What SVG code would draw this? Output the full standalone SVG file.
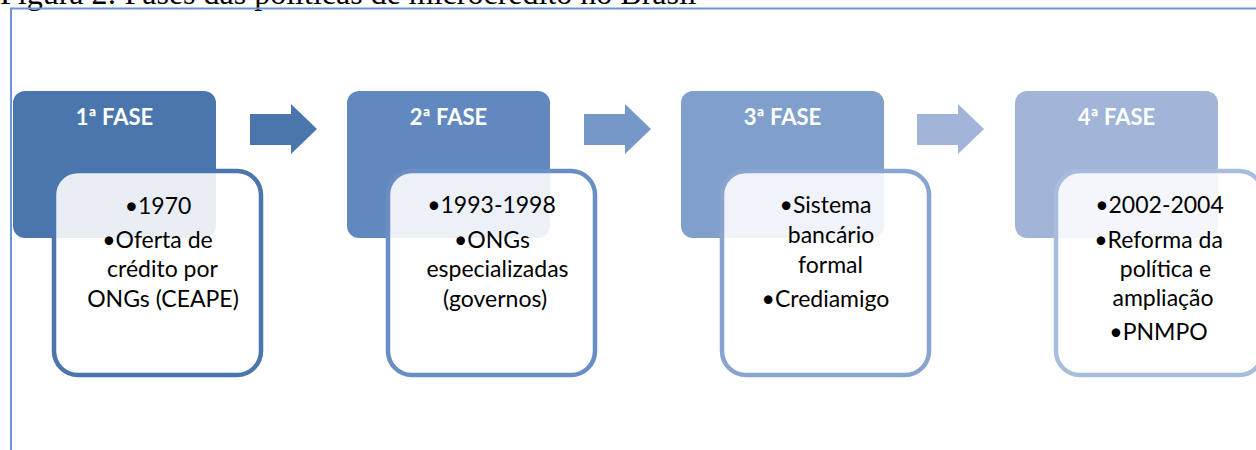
<svg xmlns="http://www.w3.org/2000/svg" width="1256" height="450" viewBox="0 0 1256 450">
<style>
  .title { font-family: "Liberation Serif", "Times New Roman", serif; font-size: 32px; fill: #000; }
  .hdr { font-family: Lato, "Open Sans", sans-serif; font-weight: bold; font-size: 22px; fill: #fff; text-anchor: middle; }
  .body { font-family: Lato, "Open Sans", sans-serif; font-size: 23px; fill: #000; text-anchor: middle; }
  .inner { fill: #fff; fill-opacity: 0.88; stroke-width: 4.5; }
</style>
<rect width="1256" height="450" fill="#fff"/>
<text class="title" x="0" y="4">Figura 2: Fases das políticas de microcrédito no Brasil</text>
<path d="M11,450 V8.5 H1256" fill="none" stroke="#6b96d4" stroke-width="2"/>

<g id="connectors">
  <path d="M250,114 H291 V104 L317,129 L291,154 V145 H250 Z" fill="#4A76AD"/>
  <path d="M584,114 H625 V104 L651,129 L625,154 V145 H584 Z" fill="#7598C9"/>
  <path d="M917,114 H958 V104 L984,129 L958,154 V145 H917 Z" fill="#A1B5D8"/>
</g>

<g id="fase1">
  <rect x="13" y="91" width="203" height="147" rx="12" fill="#4A76AD"/>
  <text class="hdr" x="114.5" y="125">1ª FASE</text>
  <rect class="inner" x="54" y="171" width="207" height="204" rx="24" stroke="#4A76AD"/>
  <text class="body" x="158" y="214">•1970</text>
  <text class="body" x="157.5" y="248">•Oferta de</text>
  <text class="body" x="162.5" y="277">crédito por</text>
  <text class="body" x="163" y="307">ONGs (CEAPE)</text>
</g>

<g id="fase2">
  <rect x="347" y="91" width="203" height="147" rx="12" fill="#6289BF"/>
  <text class="hdr" x="448.5" y="125">2ª FASE</text>
  <rect class="inner" x="388" y="171" width="207" height="204" rx="24" stroke="#6A8EC3"/>
  <text class="body" x="491.5" y="213">•1993-1998</text>
  <text class="body" x="492" y="248">•ONGs</text>
  <text class="body" x="497.5" y="277">especializadas</text>
  <text class="body" x="495" y="307">(governos)</text>
</g>

<g id="fase3">
  <rect x="681" y="91" width="203" height="147" rx="12" fill="#809FCB"/>
  <text class="hdr" x="782.5" y="125">3ª FASE</text>
  <rect class="inner" x="722" y="171" width="207" height="204" rx="24" stroke="#88A4CF"/>
  <text class="body" x="825.5" y="213">•Sistema</text>
  <text class="body" x="831" y="243">bancário</text>
  <text class="body" x="830.5" y="273">formal</text>
  <text class="body" x="825.5" y="307">•Crediamigo</text>
</g>

<g id="fase4">
  <rect x="1015" y="91" width="203" height="147" rx="12" fill="#A1B5D8"/>
  <text class="hdr" x="1116.5" y="125">4ª FASE</text>
  <rect class="inner" x="1056" y="171" width="207" height="204" rx="24" stroke="#A8BCDC"/>
  <text class="body" x="1159.5" y="213">•2002-2004</text>
  <text class="body" x="1158.5" y="248">•Reforma da</text>
  <text class="body" x="1165.5" y="277">política e</text>
  <text class="body" x="1163" y="306">ampliação</text>
  <text class="body" x="1158.5" y="340">•PNMPO</text>
</g>
</svg>
